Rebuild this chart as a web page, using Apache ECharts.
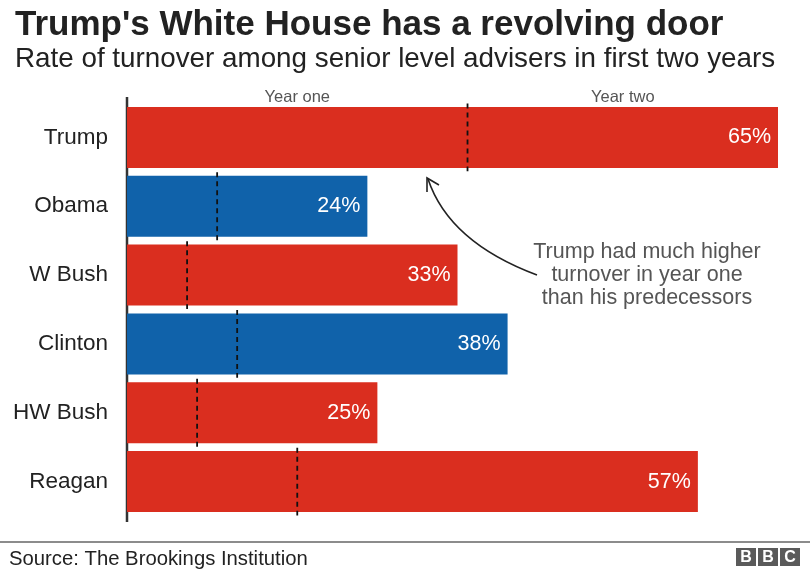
<!DOCTYPE html>
<html>
<head>
<meta charset="utf-8">
<script src="https://cdn.jsdelivr.net/npm/echarts@6/dist/echarts.min.js"></script>
<style>
html,body{margin:0;padding:0;background:#fff;}
#chart{width:810px;height:570px;}
</style>
</head>
<body>
<div id="chart"></div>
<script>
var categories = ['Trump', 'Obama', 'W Bush', 'Clinton', 'HW Bush', 'Reagan'];
var totalTurnover = [65, 24, 33, 38, 25, 57];
var yearOneTurnover = [34, 9, 6, 11, 7, 17];
var party = ['R', 'D', 'R', 'D', 'R', 'R'];
var partyColors = { R: '#DA2E1F', D: '#1062AA' };
var yearLabels = ['Year one', 'Year two'];
var yearBounds = [[0, 34], [34, 65]];

var FONT = '"Liberation Sans", Arial, Helvetica, sans-serif';
var chart = echarts.init(document.getElementById('chart'));

var barData = totalTurnover.map(function (v, i) {
  return { value: v, itemStyle: { color: partyColors[party[i]] } };
});
var markerData = yearOneTurnover.map(function (v, i) { return [v, i]; });

var option = {
  backgroundColor: '#fff',
  animation: false,
  title: [
    { text: "Trump's White House has a revolving door", left: 10, top: 3,
      textStyle: { fontFamily: FONT, fontSize: 35, fontWeight: 'bold', color: '#222' } },
    { text: 'Rate of turnover among senior level advisers in first two years', left: 10, top: 40,
      textStyle: { fontFamily: FONT, fontSize: 27.8, fontWeight: 'normal', color: '#222' } },
    { text: 'Source: The Brookings Institution', left: 4, top: 544,
      textStyle: { fontFamily: FONT, fontSize: 20.3, fontWeight: 'normal', color: '#222' } }
  ],
  grid: { left: 127, right: 32, top: 103, bottom: 54 },
  xAxis: { type: 'value', min: 0, max: 65, show: false },
  yAxis: {
    type: 'category', data: categories, inverse: true,
    axisLine: { show: false }, axisTick: { show: false },
    axisLabel: { fontFamily: FONT, fontSize: 22.5, color: '#222', margin: 19 }
  },
  series: [
    {
      type: 'bar', data: barData, barWidth: 61,
      label: { show: true, position: 'insideRight', distance: 7,
        formatter: '{c}%', color: '#fff', fontFamily: FONT, fontSize: 21.5 },
      z: 2
    },
    {
      type: 'custom', data: markerData, z: 3,
      encode: { x: 0, y: 1 },
      renderItem: function (params, api) {
        var p = api.coord([api.value(0), api.value(1)]);
        var h = api.size([0, 1])[1];
        return {
          type: 'line',
          shape: { x1: p[0], y1: p[1] - h / 2 + 0.5, x2: p[0], y2: p[1] + h / 2 - 0.5 },
          style: { stroke: '#111', lineWidth: 1.8, lineDash: [5, 4] }
        };
      }
    },
    {
      type: 'custom', data: yearBounds, z: 3,
      encode: { x: [0, 1] },
      renderItem: function (params, api) {
        var a = api.coord([api.value(0), 0]);
        var b = api.coord([api.value(1), 0]);
        return {
          type: 'text',
          style: { x: (a[0] + b[0]) / 2, y: 97, text: yearLabels[params.dataIndex],
            textAlign: 'center', textVerticalAlign: 'middle',
            fill: '#555', font: '16.5px ' + FONT }
        };
      }
    }
  ],
  graphic: [
    { type: 'line', shape: { x1: 127, y1: 97, x2: 127, y2: 522 }, style: { stroke: '#333', lineWidth: 2.5 } },
    { type: 'line', shape: { x1: 0, y1: 542, x2: 810, y2: 542 }, style: { stroke: '#666', lineWidth: 1.5 } },
    { type: 'bezierCurve', shape: { x1: 537, y1: 275, cpx1: 470, cpy1: 250, x2: 428, y2: 179, cpx2: 440, cpy2: 215 },
      style: { stroke: '#222', lineWidth: 1.6, fill: null } },
    { type: 'polyline', shape: { points: [[427, 192], [427, 178], [439, 185]] },
      style: { stroke: '#222', lineWidth: 1.6, fill: null } },
    { type: 'text', x: 647, y: 275.5,
      style: { text: 'Trump had much higher\nturnover in year one\nthan his predecessors',
        align: 'center', verticalAlign: 'middle', fill: '#555', font: '21.5px ' + FONT, lineHeight: 23 } },
    { type: 'rect', shape: { x: 736, y: 548, width: 20, height: 18 }, style: { fill: '#5a5a5a' } },
    { type: 'rect', shape: { x: 758, y: 548, width: 20, height: 18 }, style: { fill: '#5a5a5a' } },
    { type: 'rect', shape: { x: 780, y: 548, width: 20, height: 18 }, style: { fill: '#5a5a5a' } },
    { type: 'text', x: 746, y: 557.5, style: { text: 'B', align: 'center', verticalAlign: 'middle', fill: '#fff', font: 'bold 16px ' + FONT } },
    { type: 'text', x: 768, y: 557.5, style: { text: 'B', align: 'center', verticalAlign: 'middle', fill: '#fff', font: 'bold 16px ' + FONT } },
    { type: 'text', x: 790, y: 557.5, style: { text: 'C', align: 'center', verticalAlign: 'middle', fill: '#fff', font: 'bold 16px ' + FONT } }
  ]
};
chart.setOption(option);
</script>
</body>
</html>
